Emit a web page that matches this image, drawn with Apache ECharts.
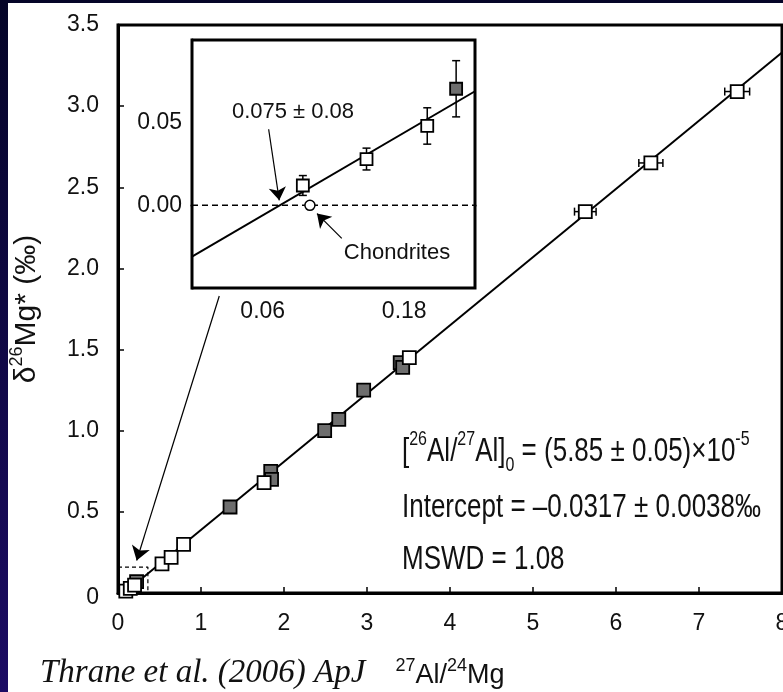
<!DOCTYPE html>
<html>
<head>
<meta charset="utf-8">
<script src="https://cdn.jsdelivr.net/npm/echarts@6/dist/echarts.min.js"></script>
<style>
html, body { margin: 0; padding: 0; }
#main {
  width: 783px; height: 692px;
  background: linear-gradient(#fff, #fff) 8px 3px / 775px 689px no-repeat,
              linear-gradient(to bottom, #050528, #1c0c64);
}
</style>
</head>
<body>
<div id="main"></div>
<script>
// 27Al/24Mg vs d26Mg* isochron (Thrane et al. 2006)
var openPts = [[0.53, 0.18], [0.64, 0.22], [0.79, 0.30], [1.76, 0.68], [3.51, 1.45]];
// x, y, x error
var openErrPts = [[5.63, 2.35, 0.13], [6.42, 2.65, 0.145], [7.46, 3.09, 0.15]];
var grayPts = [[1.35, 0.53], [1.84, 0.75], [1.85, 0.70], [2.49, 1.00], [2.66, 1.07],
  [2.96, 1.25], [3.40, 1.42], [3.43, 1.39]];
// low Al points, in both panels: x, y, y error
var lowOpenPts = [[0.094, 0.012, 0.006], [0.148, 0.028, 0.0066], [0.1995, 0.048, 0.011]];
var lowGrayPts = [[0.224, 0.0705, 0.017]];
var chondrites = [[0.1, 0]];
var fitMain = [[0.075, 0], [8, 3.33]];
var fitInset = [[0, -0.031], [0.24, 0.069]];
var insetZero = [[0, 0], [0.24, 0]];
var zoomBox = [[0, 0.16], [0.36, 0.16], [0.36, 0]];
var insetXLabels = ['0.06', '0.18'];
var insetYLabels = ['0.00', '0.05'];
// arrows, [from, to] in data coords
var boxArrow = [[1.22, 1.83], [0.225, 0.2]];
var crossArrow = [[0.065, 0.046], [0.074, 0.003]];
var chondArrow = [[0.127, -0.020], [0.106, -0.005]];

var FONT = '"Liberation Sans", Arial, sans-serif';
var myChart = echarts.init(document.getElementById('main'));

function errBars(horizontal) {
  return function (params, api) {
    var x = api.value(0), y = api.value(1), e = api.value(2);
    var a, b, c = 4;
    var st = { stroke: '#000', lineWidth: 1.5 };
    if (horizontal) {
      a = api.coord([x - e, y]); b = api.coord([x + e, y]);
      return { type: 'group', children: [
        { type: 'line', shape: { x1: a[0], y1: a[1], x2: b[0], y2: b[1] }, style: st },
        { type: 'line', shape: { x1: a[0], y1: a[1] - c, x2: a[0], y2: a[1] + c }, style: st },
        { type: 'line', shape: { x1: b[0], y1: b[1] - c, x2: b[0], y2: b[1] + c }, style: st }
      ] };
    }
    a = api.coord([x, y - e]); b = api.coord([x, y + e]);
    return { type: 'group', children: [
      { type: 'line', shape: { x1: a[0], y1: a[1], x2: b[0], y2: b[1] }, style: st },
      { type: 'line', shape: { x1: a[0] - c, y1: a[1], x2: a[0] + c, y2: a[1] }, style: st },
      { type: 'line', shape: { x1: b[0] - c, y1: b[1], x2: b[0] + c, y2: b[1] }, style: st }
    ] };
  };
}

function arrowLine(p) {
  return [{ coord: p[0] }, { coord: p[1] }];
}

var tickLabel = { color: '#111', fontSize: 23, fontFamily: FONT };
var supStyle = { fontSize: 18, fontFamily: FONT, color: '#111', verticalAlign: 'top', lineHeight: 38 };

myChart.setOption({
  animation: false,
  grid: [
    { left: 118, top: 25, right: 1, bottom: 99, outerBoundsMode: 'none', show: true, borderColor: '#000', borderWidth: 3, backgroundColor: '#fff' },
    { left: 192, top: 40, width: 283, height: 248, outerBoundsMode: 'none', show: true, borderColor: '#000', borderWidth: 3, backgroundColor: '#fff', z: 1 }
  ],
  xAxis: [
    {
      type: 'value', min: 0, max: 8, interval: 1, gridIndex: 0,
      name: '{sup|27}Al/{sup|24}Mg', nameLocation: 'middle', nameGap: 64,
      nameTextStyle: { color: '#111', fontSize: 27, fontFamily: FONT, lineHeight: 36, rich: { sup: supStyle } },
      axisLine: { lineStyle: { color: '#000', width: 3 } },
      axisTick: { inside: true, length: 6, lineStyle: { color: '#000', width: 1.5 } },
      axisLabel: Object.assign({ margin: 19 }, tickLabel),
      splitLine: { show: false }
    },
    {
      type: 'value', min: 0, max: 0.24, interval: 0.06, gridIndex: 1,
      axisLine: { lineStyle: { color: '#000', width: 3 } },
      axisTick: { inside: true, length: 5, lineStyle: { color: '#000', width: 1.5 } },
      axisLabel: Object.assign({
        margin: 12,
        formatter: function (v) { var s = v.toFixed(2); return insetXLabels.indexOf(s) >= 0 ? s : ''; }
      }, tickLabel),
      splitLine: { show: false }
    }
  ],
  yAxis: [
    {
      type: 'value', min: 0, max: 3.5, interval: 0.5, gridIndex: 0,
      name: 'δ{sup|26}Mg* (‰)', nameLocation: 'middle', nameGap: 72, nameRotate: 90,
      nameTextStyle: { color: '#111', fontSize: 30, fontFamily: FONT, lineHeight: 38, rich: { sup: supStyle } },
      axisLine: { lineStyle: { color: '#000', width: 3 } },
      axisTick: { inside: true, length: 6, lineStyle: { color: '#000', width: 1.5 } },
      axisLabel: Object.assign({
        margin: 19, verticalAlignMinLabel: 'middle',
        formatter: function (v) { return v === 0 ? '{lo|0}' : v.toFixed(1); },
        rich: { lo: { fontSize: 23, fontFamily: FONT, color: '#111', padding: [10, 0, 0, 0] } }
      }, tickLabel),
      splitLine: { show: false }
    },
    {
      type: 'value', min: -0.05, max: 0.10, interval: 0.05, gridIndex: 1,
      axisLine: { lineStyle: { color: '#000', width: 3 } },
      axisTick: { inside: true, length: 5, lineStyle: { color: '#000', width: 1.5 } },
      axisLabel: Object.assign({
        margin: 10,
        formatter: function (v) { var s = v.toFixed(2); return insetYLabels.indexOf(s) >= 0 ? s : ''; }
      }, tickLabel),
      splitLine: { show: false }
    }
  ],
  series: [
    // main panel
    {
      type: 'line', data: fitMain, xAxisIndex: 0, yAxisIndex: 0, showSymbol: false, z: 2,
      lineStyle: { color: '#000', width: 2 }
    },
    {
      type: 'line', data: zoomBox, xAxisIndex: 0, yAxisIndex: 0, showSymbol: false, z: 2,
      lineStyle: { color: '#000', width: 1.2, type: [4, 3] },
      markLine: {
        silent: true, symbol: ['none', 'arrow'], symbolSize: 14,
        label: { show: false },
        lineStyle: { color: '#000', width: 1.2, type: 'solid' },
        data: [arrowLine(boxArrow)]
      }
    },
    {
      type: 'custom', xAxisIndex: 0, yAxisIndex: 0, z: 3, data: openErrPts,
      encode: { x: 0, y: 1 }, renderItem: errBars(true)
    },
    {
      type: 'scatter', xAxisIndex: 0, yAxisIndex: 0, z: 4, symbol: 'rect', symbolSize: 13,
      data: grayPts.concat(lowGrayPts),
      itemStyle: { color: '#6e6e6e', borderColor: '#000', borderWidth: 1.8, opacity: 1 }
    },
    {
      type: 'scatter', xAxisIndex: 0, yAxisIndex: 0, z: 5, symbol: 'rect', symbolSize: 13,
      data: openPts.concat(openErrPts, lowOpenPts),
      itemStyle: { color: '#fff', borderColor: '#000', borderWidth: 1.8, opacity: 1 }
    },
    // inset
    {
      type: 'line', data: insetZero, xAxisIndex: 1, yAxisIndex: 1, showSymbol: false, z: 6,
      lineStyle: { color: '#000', width: 1.5, type: [6, 4] }
    },
    {
      type: 'line', data: fitInset, xAxisIndex: 1, yAxisIndex: 1, showSymbol: false, z: 6,
      lineStyle: { color: '#000', width: 2 },
      markLine: {
        silent: true, symbol: ['none', 'arrow'], symbolSize: 13,
        label: { show: false },
        lineStyle: { color: '#000', width: 1.2, type: 'solid' },
        data: [arrowLine(crossArrow), arrowLine(chondArrow)]
      }
    },
    {
      type: 'custom', xAxisIndex: 1, yAxisIndex: 1, z: 7, data: lowOpenPts.concat(lowGrayPts),
      encode: { x: 0, y: 1 }, renderItem: errBars(false)
    },
    {
      type: 'scatter', xAxisIndex: 1, yAxisIndex: 1, z: 8, symbol: 'rect', symbolSize: 12,
      data: lowOpenPts,
      itemStyle: { color: '#fff', borderColor: '#000', borderWidth: 1.8, opacity: 1 }
    },
    {
      type: 'scatter', xAxisIndex: 1, yAxisIndex: 1, z: 8, symbol: 'rect', symbolSize: 12,
      data: lowGrayPts,
      itemStyle: { color: '#6e6e6e', borderColor: '#000', borderWidth: 1.8, opacity: 1 }
    },
    {
      type: 'scatter', xAxisIndex: 1, yAxisIndex: 1, z: 8, symbol: 'circle', symbolSize: 10,
      data: chondrites,
      itemStyle: { color: '#fff', borderColor: '#000', borderWidth: 1.5, opacity: 1 }
    }
  ],
  graphic: [
    {
      type: 'text', x: 402, y: 452, scaleY: 1.3, z: 100,
      style: {
        text: '[{sup|26}Al/{sup|27}Al]{sub|0} = (5.85 ± 0.05)×10{sup|-5}',
        font: '26px ' + FONT, fill: '#111', textVerticalAlign: 'middle', lineHeight: 36,
        rich: {
          sup: { font: '16px ' + FONT, fill: '#111', verticalAlign: 'top', lineHeight: 36 },
          sub: { font: '16px ' + FONT, fill: '#111', verticalAlign: 'bottom', lineHeight: 36 }
        }
      }
    },
    {
      type: 'text', x: 402, y: 508, scaleY: 1.3, z: 100,
      style: { text: 'Intercept = –0.0317 ± 0.0038‰', font: '26px ' + FONT, fill: '#111', textVerticalAlign: 'middle' }
    },
    {
      type: 'text', x: 402, y: 560, scaleY: 1.3, z: 100,
      style: { text: 'MSWD = 1.08', font: '26px ' + FONT, fill: '#111', textVerticalAlign: 'middle' }
    },
    {
      type: 'text', x: 293, y: 112, z: 100,
      style: { text: '0.075 ± 0.08', font: '22px ' + FONT, fill: '#111', textAlign: 'center', textVerticalAlign: 'middle' }
    },
    {
      type: 'text', x: 397, y: 253, z: 100,
      style: { text: 'Chondrites', font: '22px ' + FONT, fill: '#111', textAlign: 'center', textVerticalAlign: 'middle' }
    },
    {
      type: 'text', x: 40, y: 673, z: 100,
      style: { text: 'Thrane et al. (2006) ApJ', font: 'italic 33px "Liberation Serif", "Times New Roman", serif', fill: '#111', textVerticalAlign: 'middle' }
    }
  ]
});
</script>
</body>
</html>
